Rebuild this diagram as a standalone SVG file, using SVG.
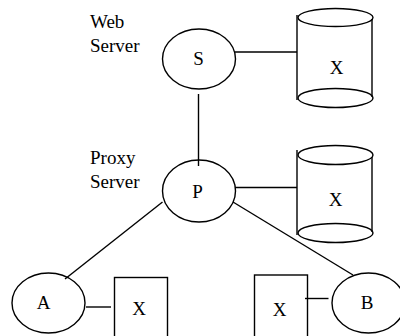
<svg xmlns="http://www.w3.org/2000/svg" width="400" height="336" viewBox="0 0 400 336" font-family="'Liberation Serif', 'Times New Roman', serif">
<style>
.s{fill:none;stroke:#000;stroke-width:1.4}
text{font-family:"Liberation Serif","Times New Roman",serif;font-size:19px;fill:#000}
.c{text-anchor:middle}
</style>
<rect width="400" height="336" fill="#fff"/>
<g id="connectors" class="s">
<line x1="235" y1="52" x2="297" y2="52"/>
<line x1="198.5" y1="94" x2="198.5" y2="166"/>
<line x1="235" y1="187.5" x2="297" y2="187.5"/>
<line x1="162.5" y1="202" x2="65" y2="279"/>
<line x1="233" y1="202" x2="353" y2="275"/>
<line x1="86" y1="307" x2="111" y2="307"/>
<line x1="305" y1="298.5" x2="328.5" y2="298.5"/>
</g>
<g id="labels">
<text x="90" y="28">Web</text>
<text x="90" y="52">Server</text>
<text x="90" y="164">Proxy</text>
<text x="90" y="188">Server</text>
</g>
<g id="S">
<ellipse class="s" cx="199" cy="59" rx="36.5" ry="30"/>
<text class="c" x="198.5" y="65">S</text>
</g>
<g id="db1">
<ellipse class="s" cx="335.5" cy="98" rx="37.5" ry="9.5"/>
<line class="s" x1="297" y1="15" x2="297" y2="100"/>
<line class="s" x1="372" y1="19" x2="372" y2="97"/>
<ellipse class="s" cx="335.5" cy="17.5" rx="37.5" ry="9"/>
<text class="c" x="336.5" y="74">X</text>
</g>
<g id="P">
<ellipse class="s" cx="199" cy="191" rx="36.5" ry="31"/>
<text class="c" x="197.5" y="198">P</text>
</g>
<g id="db2">
<ellipse class="s" cx="335.5" cy="233" rx="37.5" ry="9.5"/>
<line class="s" x1="297" y1="150" x2="297" y2="235"/>
<line class="s" x1="372" y1="157" x2="372" y2="232"/>
<ellipse class="s" cx="335.5" cy="155" rx="37.5" ry="9.5"/>
<text class="c" x="335.5" y="206">X</text>
</g>
<g id="A">
<ellipse class="s" cx="48.5" cy="303" rx="36.5" ry="30"/>
<text class="c" x="43.5" y="309">A</text>
</g>
<g id="boxA">
<rect class="s" x="114.5" y="277.5" width="53" height="62"/>
<text class="c" x="139" y="315">X</text>
</g>
<g id="boxB">
<rect class="s" x="254.5" y="275" width="53" height="64"/>
<text class="c" x="279.5" y="316">X</text>
</g>
<g id="B">
<ellipse class="s" cx="368.5" cy="303" rx="36.5" ry="30"/>
<text class="c" x="367" y="309">B</text>
</g>
</svg>
